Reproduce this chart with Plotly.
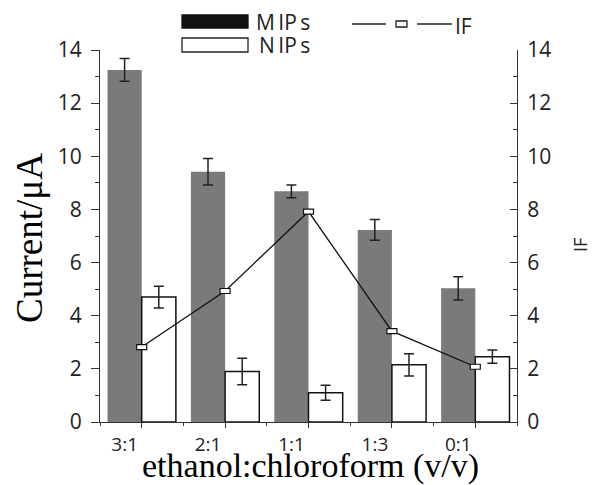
import plotly.graph_objects as go

# Solvent ratios and measured responses
categories = ["3:1", "2:1", "1:1", "1:3", "0:1"]
mips_current = [13.25, 9.42, 8.68, 7.23, 5.03]
mips_error = [0.43, 0.50, 0.24, 0.39, 0.44]
nips_current = [4.70, 1.90, 1.10, 2.15, 2.46]
nips_error = [0.41, 0.50, 0.28, 0.42, 0.25]
imprinting_factor = [2.82, 4.93, 7.92, 3.42, 2.08]
y_ticks = [0, 2, 4, 6, 8, 10, 12, 14]

W, H = 592, 485
L, R, T, B = 100, 517, 50, 422


def px_x(p):
    return (p - L) / (R - L)


def px_y(p):
    return (B - p) / (B - T)


xpos = list(range(len(categories)))
AX = "#333333"
TICK_FONT = dict(family="Open Sans", size=21, color="#222222")
XTICK_FONT = dict(family="Open Sans", size=19, color="#222222")
SERIF_Y = dict(family="Liberation Serif", size=37, color="#000000")
SERIF_X = dict(family="Liberation Serif", size=34, color="#000000")

fig = go.Figure()

fig.add_trace(go.Bar(
    x=xpos, y=mips_current, name="M IPs",
    marker=dict(color="#7a7a7a", line=dict(width=0)),
    error_y=dict(type="data", array=mips_error, color="#222222",
                 thickness=1.5, width=5),
))
fig.add_trace(go.Bar(
    x=xpos, y=nips_current, name="N IPs",
    marker=dict(color="#ffffff", line=dict(color="#111111", width=1.5)),
    error_y=dict(type="data", array=nips_error, color="#222222",
                 thickness=1.5, width=5),
))
fig.add_trace(go.Scatter(
    x=xpos, y=imprinting_factor, yaxis="y2", name="IF", mode="lines",
    line=dict(color="#111111", width=1.3),
))

shapes = []
# rectangular point markers on the IF line
for xi, v in zip(xpos, imprinting_factor):
    shapes.append(dict(
        type="rect", xref="x", yref="y2",
        xsizemode="pixel", ysizemode="pixel",
        xanchor=xi, yanchor=v, x0=-5, x1=5, y0=-2.5, y1=2.5,
        fillcolor="#ffffff", line=dict(color="#111111", width=1.2),
        layer="above",
    ))

# legend drawn by hand: wide swatches for the bars, line+box for IF
def rect_px(x0, x1, y0, y1, fill, line):
    return dict(type="rect", xref="paper", yref="paper",
                x0=px_x(x0), x1=px_x(x1), y0=px_y(y1), y1=px_y(y0),
                fillcolor=fill, line=dict(color=line, width=1.3),
                layer="above")


def line_px(x0, x1, y):
    return dict(type="line", xref="paper", yref="paper",
                x0=px_x(x0), x1=px_x(x1), y0=px_y(y), y1=px_y(y),
                line=dict(color="#222222", width=1.3))


shapes += [
    rect_px(182, 248, 15, 28, "#111111", "#111111"),
    rect_px(182, 248, 38, 52, "#ffffff", "#222222"),
    line_px(352, 386, 24),
    rect_px(396, 407, 21, 27, "#ffffff", "#222222"),
    line_px(417, 452, 24),
]

LEG_FONT = dict(family="Open Sans", size=21, color="#222222")
annotations = [
    dict(text="M\u2009IP\u2009s", x=px_x(254), y=px_y(22), xref="paper",
         yref="paper", xanchor="left", yanchor="middle", showarrow=False,
         font=LEG_FONT),
    dict(text="N\u2009IP\u2009s", x=px_x(257), y=px_y(45), xref="paper",
         yref="paper", xanchor="left", yanchor="middle", showarrow=False,
         font=LEG_FONT),
    dict(text="IF", x=px_x(453), y=px_y(26), xref="paper", yref="paper",
         xanchor="left", yanchor="middle", showarrow=False, font=LEG_FONT),
    dict(text="Current/μA", x=px_x(29), y=px_y(238), xref="paper",
         yref="paper", xanchor="center", yanchor="middle", textangle=-90,
         showarrow=False, font=SERIF_Y),
    dict(text="ethanol:chloroform (v/v)", x=px_x(310), y=px_y(466),
         xref="paper", yref="paper", xanchor="center", yanchor="middle",
         showarrow=False, font=SERIF_X),
    dict(text="IF", x=px_x(580), y=px_y(245), xref="paper", yref="paper",
         xanchor="center", yanchor="middle", textangle=-90,
         showarrow=False,
         font=dict(family="Open Sans", size=18, color="#222222")),
]

fig.update_layout(
    width=W, height=H,
    margin=dict(l=L, r=W - R, t=T, b=H - B, pad=0),
    paper_bgcolor="#ffffff", plot_bgcolor="#ffffff",
    barmode="group", bargap=0.18, bargroupgap=0,
    showlegend=False,
    shapes=shapes, annotations=annotations,
    xaxis=dict(
        range=[-0.5, 4.5], tickvals=xpos, ticktext=categories,
        ticks="outside", ticklen=5, tickwidth=1.3, tickcolor=AX,
        showline=True, linecolor=AX, linewidth=1.3,
        showgrid=False, zeroline=False, tickfont=XTICK_FONT,
        ticklabelshift=-17, ticklabelstandoff=0,
        minor=dict(tick0=0.5, dtick=1, ticks="outside", ticklen=3,
                   tickwidth=1.3, tickcolor=AX, showgrid=False),
    ),
    yaxis=dict(
        range=[0, 14], tickvals=y_ticks,
        ticks="outside", ticklen=8, tickwidth=1.3, tickcolor=AX,
        showline=True, linecolor=AX, linewidth=1.3,
        showgrid=False, zeroline=False, tickfont=TICK_FONT,
        ticklabelstandoff=5,
        minor=dict(dtick=1, ticks="outside", ticklen=4,
                   tickwidth=1.3, tickcolor=AX, showgrid=False),
    ),
    yaxis2=dict(
        range=[0, 14], tickvals=y_ticks, overlaying="y", side="right",
        ticks="inside", ticklen=7, tickwidth=1.3, tickcolor=AX,
        showline=True, linecolor=AX, linewidth=1.3,
        showgrid=False, zeroline=False, tickfont=TICK_FONT,
        ticklabelstandoff=5,
        minor=dict(dtick=1, ticks="inside", ticklen=4,
                   tickwidth=1.3, tickcolor=AX, showgrid=False),
    ),
)

fig.write_html("out.html")
